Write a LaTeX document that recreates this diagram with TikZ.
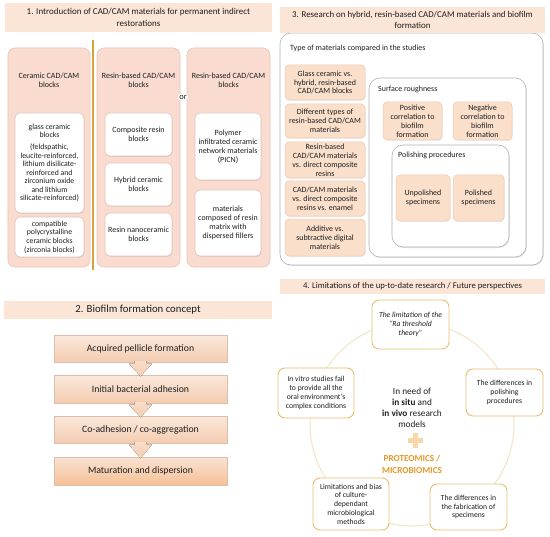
\documentclass[tikz,border=0pt]{standalone}
\usepackage{fontspec}
\setmainfont{Carlito}
\usetikzlibrary{calc,shadows}
\definecolor{ink}{RGB}{30,30,30}
\definecolor{bandc}{RGB}{251,229,214}
\definecolor{colc}{RGB}{249,219,207}
\definecolor{colb}{RGB}{236,196,182}
\definecolor{wb}{RGB}{226,196,186}
\definecolor{peach}{RGB}{250,223,203}
\definecolor{peachb}{RGB}{238,200,176}
\definecolor{grayb}{RGB}{178,178,178}
\definecolor{goldl}{RGB}{214,164,60}
\definecolor{goldb}{RGB}{232,192,112}
\definecolor{circc}{RGB}{242,228,196}
\definecolor{orangec}{RGB}{232,152,40}
\definecolor{flowtop}{RGB}{250,232,220}
\definecolor{flowbot}{RGB}{244,204,176}
\definecolor{flowb}{RGB}{222,190,170}
\definecolor{arrc}{RGB}{245,206,178}
\definecolor{plusc}{RGB}{250,214,168}
\begin{document}
\begin{tikzpicture}[x=1bp,y=-1bp,
  txt/.style={font=\fontsize{8}{8.9}\selectfont, text=ink, align=center},
  bandbox/.style={fill=bandc, draw=none, inner sep=0pt, align=center, text=ink},
  colbox/.style={rounded corners=7bp, fill=colc, draw=colb, line width=0.6bp, inner sep=0pt},
  wbox/.style={txt, rounded corners=5bp, fill=white, draw=wb, line width=0.6bp, inner sep=1bp,
     drop shadow={shadow xshift=0.6bp, shadow yshift=-0.8bp, opacity=0.18}},
  pbox/.style={txt, rounded corners=4bp, fill=peach, draw=peachb, line width=0.5bp, inner sep=1bp,
     drop shadow={shadow xshift=0.6bp, shadow yshift=-0.8bp, opacity=0.15}},
  gbox/.style={rounded corners=11bp, fill=white, draw=grayb, line width=0.6bp, inner sep=0pt,
     drop shadow={shadow xshift=0.8bp, shadow yshift=-1bp, opacity=0.2}},
  lbox/.style={txt, font=\fontsize{7.7}{8.8}\selectfont, rounded corners=7bp, fill=white, draw=goldb, line width=0.9bp, inner sep=1bp},
  flow/.style={font=\fontsize{9.8}{11}\selectfont, text=ink, top color=flowtop, bottom color=flowbot,
     draw=flowb, line width=0.4bp, inner sep=0pt, minimum width=173bp,
     drop shadow={shadow xshift=1bp, shadow yshift=-1.2bp, opacity=0.25}},
  lab/.style={txt, anchor=west, inner sep=0pt},
  flowarrow/.style={top color=arrc!70!white, bottom color=arrc, draw=none}
]
\useasboundingbox (0,0) rectangle (550,537);
\fill[white] (0,0) rectangle (550,537);

% ---------- Panel 1 ----------
\node[bandbox, font=\fontsize{9}{11.5}\selectfont, minimum width=267bp, minimum height=29bp] (t1) at (138.5,17.5)
  {1. Introduction of CAD/CAM materials for permanent indirect\\restorations};
\node[colbox, minimum width=82bp, minimum height=219bp] (col1) at (49,157.5) {};
\node[colbox, minimum width=83bp, minimum height=219bp] (col2) at (138.5,157.5) {};
\node[colbox, minimum width=83bp, minimum height=219bp] (col3) at (228.5,157.5) {};
\draw[goldl, line width=1.3bp] (93,40) -- (93,270);
\node[txt] (h1) at (49,80) {Ceramic CAD/CAM\\blocks};
\node[txt] (h2) at (138.5,80) {Resin-based CAD/CAM\\blocks};
\node[txt] (h3) at (228.5,80) {Resin-based CAD/CAM\\blocks};
\node[txt, fill=white, rounded corners=4bp, inner sep=1.5bp, font=\fontsize{8.5}{9}\selectfont] (or) at (183,97) {or};

\node[wbox, font=\fontsize{7.8}{8.6}\selectfont, minimum width=69bp, minimum height=100bp] (c1a) at (49.5,163)
  {glass ceramic\\blocks\\[3bp](feldspathic,\\leucite-reinforced,\\lithium disilicate-\\reinforced and\\zirconium oxide\\and lithium\\silicate-reinforced)};
\node[wbox, font=\fontsize{7.8}{8.6}\selectfont, minimum width=69bp, minimum height=40bp] (c1b) at (49.5,237)
  {compatible\\polycrystalline\\ceramic blocks\\(zirconia blocks)};
\node[wbox, minimum width=67bp, minimum height=43bp] (c2a) at (138.5,134.5) {Composite resin\\blocks};
\node[wbox, minimum width=67bp, minimum height=43bp] (c2b) at (138.5,184.5) {Hybrid ceramic\\blocks};
\node[wbox, minimum width=67bp, minimum height=43bp] (c2c) at (138.5,234.5) {Resin nanoceramic\\blocks};
\node[wbox, minimum width=66bp, minimum height=67bp] (c3a) at (228,146.5)
  {Polymer\\infiltrated ceramic\\network materials\\(PICN)};
\node[wbox, minimum width=66bp, minimum height=66bp] (c3b) at (228,223)
  {materials\\composed of resin\\matrix with\\dispersed fillers};

% ---------- Panel 3 ----------
\node[gbox, minimum width=263bp, minimum height=232bp] (outer) at (411.5,149) {};
\node[bandbox, font=\fontsize{8.9}{11.5}\selectfont, minimum width=265bp, minimum height=26bp] (t3) at (412.5,20)
  {3. Research on hybrid, resin-based CAD/CAM materials and biofilm\\formation};
\node[lab] (typ) at (290,48) {Type of materials compared in the studies};
\node[pbox, minimum width=80bp, minimum height=35bp] (m1) at (325,82.5) {Glass ceramic vs.\\hybrid, resin-based\\CAD/CAM blocks};
\node[pbox, minimum width=80bp, minimum height=34bp] (m2) at (325,121) {Different types of\\resin-based CAD/CAM\\materials};
\node[pbox, minimum width=80bp, minimum height=36bp] (m3) at (325,160) {Resin-based\\CAD/CAM materials\\vs. direct composite\\resins};
\node[pbox, minimum width=80bp, minimum height=35bp] (m4) at (325,198.5) {CAD/CAM materials\\vs. direct composite\\resins vs. enamel};
\node[pbox, minimum width=80bp, minimum height=37bp] (m5) at (325,237.5) {Additive vs.\\subtractive digital\\materials};
\node[gbox, minimum width=157bp, minimum height=179bp] (sr) at (447.5,167.5) {};
\node[lab] (srl) at (378,89) {Surface roughness};
\node[pbox, minimum width=59bp, minimum height=38bp] (pos) at (412.5,121) {Positive\\correlation to\\biofilm\\formation};
\node[pbox, minimum width=59bp, minimum height=38bp] (neg) at (482.5,121) {Negative\\correlation to\\biofilm\\formation};
\node[gbox, minimum width=117bp, minimum height=102bp] (pp) at (450.5,196) {};
\node[lab] (ppl) at (398,155) {Polishing procedures};
\node[pbox, minimum width=54bp, minimum height=46bp] (unp) at (423,198) {Unpolished\\specimens};
\node[pbox, minimum width=51bp, minimum height=46bp] (pol) at (478.5,198) {Polished\\specimens};

% ---------- Panel 2 ----------
\node[bandbox, font=\fontsize{10.8}{12}\selectfont, minimum width=268bp, minimum height=18bp] (t2) at (138,310)
  {2. Biofilm formation concept};
\node[flow, minimum height=27bp] (f1) at (140.5,348.5) {Acquired pellicle formation};
\node[flow, minimum height=28bp] (f2) at (140.5,389) {Initial bacterial adhesion};
\node[flow, minimum height=27bp] (f3) at (140.5,429.5) {Co-adhesion / co-aggregation};
\node[flow, minimum height=28bp, top color=flowtop!80!flowbot, bottom color=flowbot!85!orange] (f4) at (140.5,471) {Maturation and dispersion};
\foreach \a/\b in {f1/f2,f2/f3,f3/f4}{
  \fill[flowarrow] ($(\a.south)+(-6,-1)$) -- ($(\a.south)+(-6,1.5)$) -- ($(\a.south)+(-11.5,1.5)$)
    -- ($(\b.north)+(0,1.5)$) -- ($(\a.south)+(11.5,1.5)$) -- ($(\a.south)+(6,1.5)$)
    -- ($(\a.south)+(6,-1)$) -- cycle;
}

% ---------- Panel 4 ----------
\node[bandbox, font=\fontsize{8.7}{10}\selectfont, minimum width=265bp, minimum height=15bp] (t4) at (412.5,286)
  {4. Limitations of the up-to-date research / Future perspectives};
\draw[circc, line width=1bp] (412,424) circle[radius=102];
\node[lbox, minimum width=77bp, minimum height=49bp, font=\fontsize{7.7}{8.8}\selectfont\itshape] (l1) at (410.5,324.5)
  {The limitation of the\\“Ra threshold\\theory”};
\node[lbox, minimum width=76bp, minimum height=50bp] (l2) at (316,393)
  {\textit{In vitro} studies fail\\to provide all the\\oral environment’s\\complex conditions};
\node[lbox, minimum width=77bp, minimum height=47bp] (l3) at (504.5,392.5)
  {The differences in\\polishing\\procedures};
\node[lbox, minimum width=76bp, minimum height=52bp] (l4) at (351,504)
  {Limitations and bias\\of culture-\\dependant\\microbiological\\methods};
\node[lbox, minimum width=77bp, minimum height=46bp] (l5) at (468.5,507)
  {The differences in\\the fabrication of\\specimens};
\node[txt, font=\fontsize{9.3}{11}\selectfont] (need) at (412,407.5)
  {In need of\\\textbf{in situ} and\\\textbf{in vivo} research\\models};
\fill[plusc] (412.5,433) rectangle (417.5,448);
\fill[plusc] (407.5,438) rectangle (422.5,443);
\node[txt, font=\fontsize{9.2}{12}\selectfont\bfseries, text=orangec] (prot) at (412,464)
  {PROTEOMICS /\\MICROBIOMICS};
\end{tikzpicture}
\end{document}
